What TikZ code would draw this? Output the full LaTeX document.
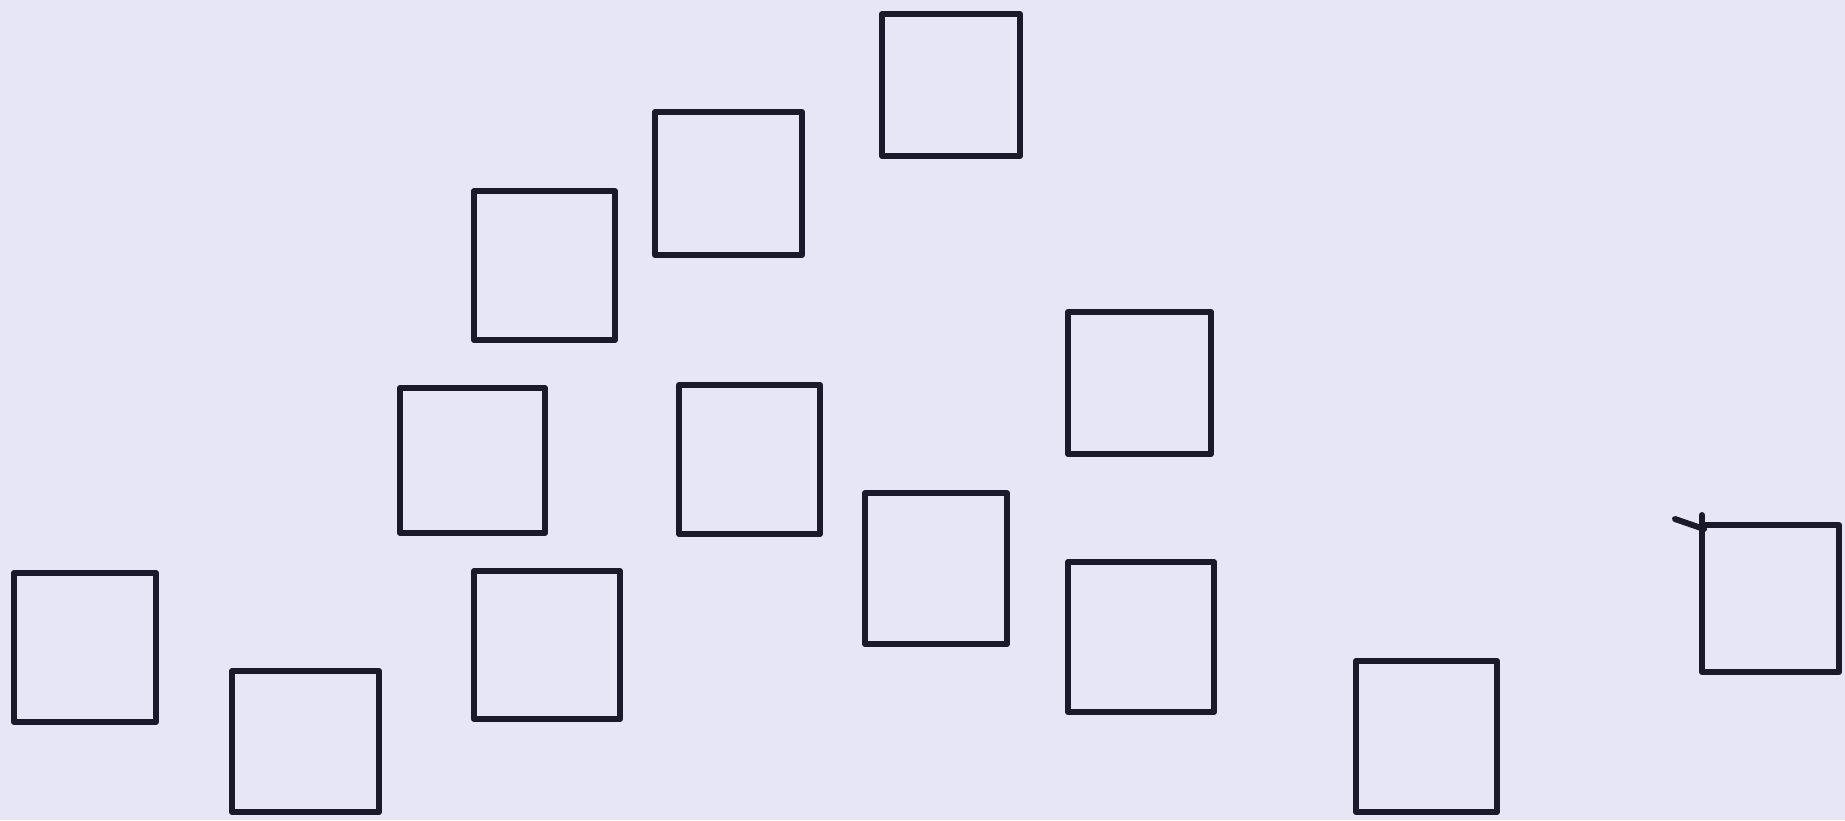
\documentclass[tikz,border=0pt]{standalone}
\usepackage{tikz}
\usepackage{xcolor}
\definecolor{paperlilac}{HTML}{E6E6F7}
\definecolor{inkblack}{HTML}{1A1A2C}

\begin{document}
\begin{tikzpicture}[x=0.01cm,y=-0.01cm,
  box/.style={inkblack, line width=1.7pt, line join=round, line cap=round}]
\fill[paperlilac] (0,0) rectangle (1845,820);
\useasboundingbox (0,0) rectangle (1845,820);
% squares: left/top/right/bottom in pixels
\foreach \l/\t/\r/\b in {882/14/1020/156, 655/112/802/255, 474/191/615/340,
  1068/312/1211/454, 400/388/545/533, 679/385/820/534, 865/493/1007/644,
  14/573/156/722, 474/571/620/719, 1068/562/1214/712, 232/671/379/812,
  1356/661/1497/812, 1702/525/1839/672}
  \draw[box] (\l,\t) rectangle (\r,\b);
\draw[box] (1675,519) -- (1704,529);
\draw[box] (1702,515) -- (1702,525);
\end{tikzpicture}
\end{document}
